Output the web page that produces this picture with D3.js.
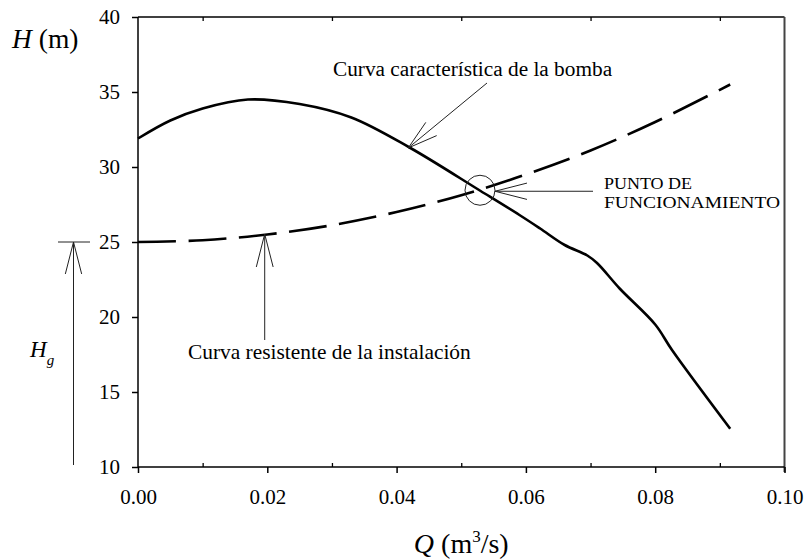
<!DOCTYPE html>
<html><head><meta charset="utf-8">
<script src="https://cdn.jsdelivr.net/npm/d3@7"></script>
<style>
body{margin:0;background:#fff;}
svg text{font-family:"Liberation Serif","Times New Roman",serif;fill:#000;}
</style></head>
<body><svg id="c" width="805" height="559"></svg>
<script>
// ---- data ----
const pumpQ = [0, 0.005, 0.01, 0.017, 0.025, 0.033, 0.042, 0.053, 0.059, 0.0622, 0.066, 0.0695, 0.071, 0.0745, 0.08, 0.0826, 0.0916];
const pumpH = [31.9, 33.1, 33.9, 34.5, 34.2, 33.3, 31.3, 28.4, 26.8, 25.9, 24.8, 24.1, 23.6, 21.9, 19.5, 17.8, 12.55];
const sysQ = [0, 0.01, 0.02, 0.03, 0.04, 0.05, 0.06, 0.07, 0.08, 0.0916];
const sysH = [25.0, 25.12, 25.5, 26.12, 27.0, 28.12, 29.5, 31.1, 33.0, 35.5];
const xTicks = [0, 0.02, 0.04, 0.06, 0.08, 0.10];
const xMinorTicks = [0.01, 0.03, 0.05, 0.07, 0.09];
const yTicks = [10, 15, 20, 25, 30, 35, 40];
const Hg = 25;
const opPoint = {Q: 0.0529, H: 28.45};
const labelPump = "Curva característica de la bomba";
const labelSys = "Curva resistente de la instalación";
const labelOp = ["PUNTO DE", "FUNCIONAMIENTO"];

// ---- layout ----
const L = 138, R = 784.5, T = 17, B = 467;
const svg = d3.select("#c");
const x = d3.scaleLinear().domain([0, 0.10]).range([L, R]);
const y = d3.scaleLinear().domain([10, 40]).range([B, T]);

// frame: top and right
svg.append("line").attr("x1", L).attr("x2", R).attr("y1", T).attr("y2", T).attr("stroke", "#000").attr("stroke-width", 1.5);
svg.append("line").attr("x1", R).attr("x2", R).attr("y1", T).attr("y2", B+5).attr("stroke", "#444").attr("stroke-width", 2);

// minor ticks inside top
const topMinor = svg.append("g").attr("transform", `translate(0,${T})`)
  .call(d3.axisTop(x).tickValues(xMinorTicks).tickSize(-4).tickFormat(""));
topMinor.select(".domain").remove();
topMinor.selectAll("line").attr("stroke", "#000").attr("stroke-width", 1.3);

// x axis
const xa = svg.append("g").attr("transform", `translate(0,${B})`)
  .call(d3.axisBottom(x).tickValues(xTicks).tickSize(6).tickPadding(16).tickFormat(d3.format(".2f")));
xa.attr("font-family", null);
xa.select(".domain").attr("d", `M${L},0H${R}`).attr("stroke", "#000").attr("stroke-width", 1.5);
xa.selectAll("line").attr("stroke", "#000").attr("stroke-width", 1.5);
xa.selectAll("text").attr("font-size", 21);
const xm = svg.append("g").attr("transform", `translate(0,${B})`)
  .call(d3.axisBottom(x).tickValues(xMinorTicks).tickSize(-4).tickFormat(""));
xm.select(".domain").remove();
xm.selectAll("line").attr("stroke", "#000").attr("stroke-width", 1.3);

// y axis
const ya = svg.append("g").attr("transform", `translate(${L},0)`)
  .call(d3.axisLeft(y).tickValues(yTicks).tickSize(6).tickPadding(12));
ya.attr("font-family", null);
ya.select(".domain").attr("d", `M0,${T}V${B}`).attr("stroke", "#000").attr("stroke-width", 1.5);
ya.selectAll("line").attr("stroke", "#000").attr("stroke-width", 1.5);
ya.selectAll("text").attr("font-size", 21);

// axis titles
const ht = svg.append("text").attr("x", 12).attr("y", 48).attr("font-size", 27.5);
ht.append("tspan").attr("font-style", "italic").text("H");
ht.append("tspan").text(" (m)");
const qt = svg.append("text").attr("x", (L+R)/2).attr("y", 553).attr("font-size", 28).attr("text-anchor", "middle");
qt.append("tspan").attr("font-style", "italic").text("Q");
qt.append("tspan").text(" (m");
qt.append("tspan").attr("font-size", 17).attr("dy", -11).text("3");
qt.append("tspan").attr("dy", 11).text("/s)");

// curves
const line = d3.line().x(d => x(d[0])).y(d => y(d[1])).curve(d3.curveCatmullRom.alpha(0.5));
svg.append("path").datum(pumpQ.map((q,i) => [q, pumpH[i]]))
  .attr("d", line).attr("fill", "none").attr("stroke", "#000").attr("stroke-width", 2.6);
svg.append("path").datum(sysQ.map((q,i) => [q, sysH[i]]))
  .attr("d", line).attr("fill", "none").attr("stroke", "#000").attr("stroke-width", 2.6)
  .attr("stroke-dasharray", "38,12.5");

// arrow helper (open arrowhead made of two lines)
function arrow(x1, y1, x2, y2, len, spread) {
  const g = svg.append("g").attr("stroke", "#222").attr("stroke-width", 1).attr("fill", "none");
  g.append("line").attr("x1", x1).attr("y1", y1).attr("x2", x2).attr("y2", y2);
  const a = Math.atan2(y1 - y2, x1 - x2);
  [a - spread, a + spread].forEach(b => {
    g.append("line").attr("x1", x2).attr("y1", y2)
      .attr("x2", x2 + len * Math.cos(b)).attr("y2", y2 + len * Math.sin(b));
  });
}

// pump annotation
svg.append("text").attr("x", 333).attr("y", 76).attr("font-size", 21.3).text(labelPump);
arrow(487, 83, x(0.0418), y(31.27), 31, 0.28);

// operating point
svg.append("circle").attr("cx", x(opPoint.Q)).attr("cy", y(opPoint.H)).attr("r", 15)
  .attr("fill", "none").attr("stroke", "#222").attr("stroke-width", 1);
arrow(593, y(opPoint.H) + 1, x(opPoint.Q) + 15, y(opPoint.H) + 1, 33, 0.25);
svg.append("text").attr("x", 604).attr("y", 188.5).attr("font-size", 16)
  .attr("textLength", 88).attr("lengthAdjust", "spacingAndGlyphs").text(labelOp[0]);
svg.append("text").attr("x", 604).attr("y", 207.5).attr("font-size", 16)
  .attr("textLength", 176).attr("lengthAdjust", "spacingAndGlyphs").text(labelOp[1]);

// system annotation
arrow(x(0.0196), 340, x(0.0196), y(25.53), 34, 0.25);
svg.append("text").attr("x", 188).attr("y", 359).attr("font-size", 21.4).text(labelSys);

// Hg
svg.append("line").attr("x1", 58).attr("x2", 90).attr("y1", y(Hg)).attr("y2", y(Hg)).attr("stroke", "#222").attr("stroke-width", 1);
arrow(73.5, B - 2, 73.5, y(Hg), 33, 0.25);
const hg = svg.append("text").attr("x", 30).attr("y", 357).attr("font-size", 23);
hg.append("tspan").attr("font-style", "italic").text("H");
hg.append("tspan").attr("font-style", "italic").attr("font-size", 15).attr("dy", 8).text("g");
</script></body></html>
